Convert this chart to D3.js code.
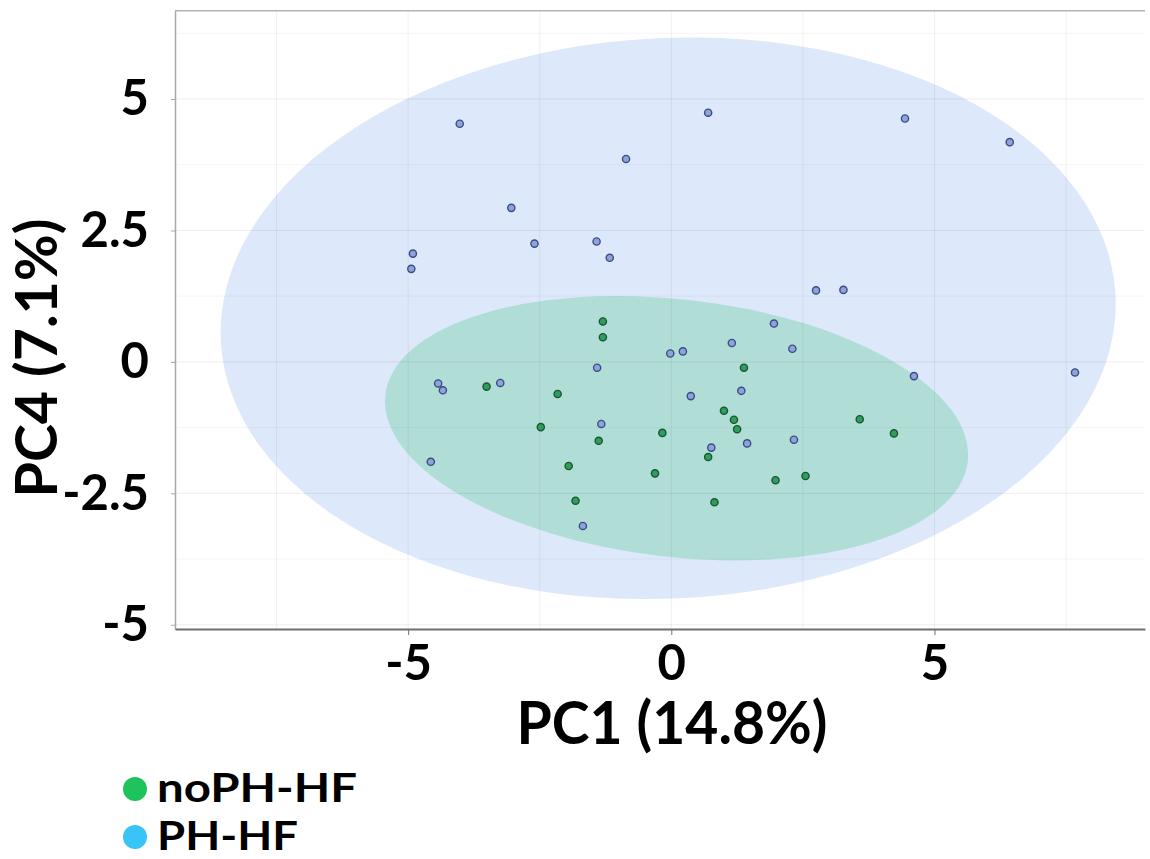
<!DOCTYPE html>
<html>
<head>
<meta charset="utf-8">
<script src="https://cdn.jsdelivr.net/npm/d3@7"></script>
<style>
  html, body { margin: 0; padding: 0; background: #fff; }
  svg text { font-family: Lato, "Open Sans", sans-serif; font-weight: 700; fill: #000; }
</style>
</head>
<body>
<svg id="chart" width="1150" height="859"></svg>
<script>
// PH-HF scores (PC1, PC4)
var phX = [-4.02, 0.70, -0.86, -3.04, -2.60, -1.42, -1.17, -4.91, -4.94, 4.44, 6.43, 2.75, 3.27, 1.95, 1.15, -0.02,
           0.22, -1.41, -4.43, -4.34, -3.25, 0.37, 1.33, -1.33, 1.44, 0.76, -4.57, -1.68, 2.30, 4.61, 7.67, 2.33];
var phY = [4.53, 4.74, 3.86, 2.93, 2.25, 2.29, 1.98, 2.06, 1.77, 4.63, 4.18, 1.36, 1.37, 0.73, 0.36, 0.16,
           0.20, -0.11, -0.41, -0.54, -0.40, -0.65, -0.55, -1.18, -1.55, -1.63, -1.90, -3.12, 0.25, -0.27, -0.20, -1.48];

// noPH-HF scores (PC1, PC4)
var nophX = [-1.30, -1.30, -3.51, -2.16, -2.48, -1.38, -1.95, -1.82, -0.17, -0.31, 1.38, 1.00, 1.19, 1.25, 0.70,
             0.82, 1.98, 3.58, 4.23, 2.55];
var nophY = [0.77, 0.47, -0.47, -0.61, -1.24, -1.50, -1.98, -2.64, -1.35, -2.12, -0.11, -0.93, -1.10, -1.28, -1.81,
             -2.67, -2.25, -1.09, -1.36, -2.17];

// confidence ellipses: [centerX, centerY, radiusX, radiusY, angle (deg)]
var phEllipse = [-0.06, 0.83, 8.51, 5.33, 3];
var nophEllipse = [0.10, -1.26, 5.57, 2.45, -6.5];

var xTicks = [-5, 0, 5];
var yTicks = [-5, -2.5, 0, 2.5, 5];
var xGrid = [-7.5, -5, -2.5, 0, 2.5, 5, 7.5];
var yGrid = [-5, -3.75, -2.5, -1.25, 0, 1.25, 2.5, 3.75, 5, 6.25];

var groups = ["noPH-HF", "PH-HF"];
var legendColors = ["#1fc35e", "#38c4f4"];

var svg = d3.select("#chart");

var x = d3.scaleLinear().domain([-9.43, 9.0]).range([175, 1145]);
var y = d3.scaleLinear().domain([-5.08, 6.68]).range([629, 10.7]);

function ellipse(g, e, fill) {
  var cx = x(e[0]), cy = y(e[1]);
  g.append("ellipse")
    .attr("cx", cx)
    .attr("cy", cy)
    .attr("rx", x(e[0] + e[2]) - cx)
    .attr("ry", cy - y(e[1] + e[3]))
    .attr("transform", "rotate(" + (-e[4]) + "," + cx + "," + cy + ")")
    .attr("fill", fill);
}

var plot = svg.append("g");
ellipse(plot, phEllipse, "#dde8fa");
ellipse(plot, nophEllipse, "#b0ded6");

// grid on top of the ellipses, very faint
plot.append("g").selectAll("line")
  .data(xGrid)
  .join("line")
    .attr("x1", d => x(d)).attr("x2", d => x(d))
    .attr("y1", y.range()[1]).attr("y2", y.range()[0])
    .attr("stroke", "#000")
    .attr("stroke-opacity", 0.06);

plot.append("g").selectAll("line")
  .data(yGrid)
  .join("line")
    .attr("x1", x.range()[0]).attr("x2", x.range()[1])
    .attr("y1", d => y(d)).attr("y2", d => y(d))
    .attr("stroke", "#000")
    .attr("stroke-opacity", d => d % 2.5 === 0 ? 0.07 : 0.04);

// top border
svg.append("line")
  .attr("x1", x.range()[0]).attr("x2", x.range()[1])
  .attr("y1", y.range()[1]).attr("y2", y.range()[1])
  .attr("stroke", "#b4b4b4")
  .attr("stroke-width", 1.5);

// points
var ph = phX.map((d, i) => [d, phY[i]]);
var noph = nophX.map((d, i) => [d, nophY[i]]);

plot.append("g").selectAll("circle")
  .data(ph)
  .join("circle")
    .attr("cx", d => x(d[0]))
    .attr("cy", d => y(d[1]))
    .attr("r", 3.6)
    .attr("fill", "#8ea4d9")
    .attr("stroke", "#3a4c86")
    .attr("stroke-width", 1.4);

plot.append("g").selectAll("circle")
  .data(noph)
  .join("circle")
    .attr("cx", d => x(d[0]))
    .attr("cy", d => y(d[1]))
    .attr("r", 3.6)
    .attr("fill", "#2f9d5d")
    .attr("stroke", "#1b5631")
    .attr("stroke-width", 1.4);

// axes
var yAxis = svg.append("g")
  .attr("transform", "translate(" + x.range()[0] + ",0)")
  .call(d3.axisLeft(y).tickValues(yTicks).tickFormat(d => String(d))
    .tickSizeInner(4).tickSizeOuter(0).tickPadding(22));
yAxis.select(".domain").attr("stroke", "#a8a8a8").attr("stroke-width", 1.5);
yAxis.selectAll(".tick line").attr("stroke", "#a8a8a8");
yAxis.selectAll(".tick text").style("font-size", "49px").attr("fill", "#000");

var xAxis = svg.append("g")
  .attr("transform", "translate(0," + y.range()[0] + ")")
  .call(d3.axisBottom(x).tickValues(xTicks).tickFormat(d => String(d))
    .tickSizeInner(6).tickSizeOuter(0).tickPadding(10));
xAxis.select(".domain").attr("stroke", "#6f6f6f").attr("stroke-width", 2);
xAxis.selectAll(".tick line").attr("stroke", "#6f6f6f");
xAxis.selectAll(".tick text").style("font-size", "49px").attr("fill", "#000");

// axis titles
svg.append("text")
  .attr("x", 672)
  .attr("y", 744)
  .attr("text-anchor", "middle")
  .attr("textLength", 311)
  .attr("lengthAdjust", "spacingAndGlyphs")
  .style("font-size", "60px")
  .text("PC1 (14.8%)");

svg.append("text")
  .attr("transform", "translate(57,358) rotate(-90)")
  .attr("text-anchor", "middle")
  .attr("textLength", 279)
  .attr("lengthAdjust", "spacingAndGlyphs")
  .style("font-size", "58px")
  .text("PC4 (7.1%)");

// legend
var legend = svg.append("g").selectAll("g")
  .data(groups)
  .join("g")
    .attr("transform", (d, i) => "translate(135," + (789 + i * 48) + ")");

legend.append("circle")
  .attr("r", 12)
  .attr("fill", (d, i) => legendColors[i]);

legend.append("text")
  .attr("x", 22)
  .attr("y", 13)
  .attr("textLength", (d, i) => i === 0 ? 200 : 141)
  .attr("lengthAdjust", "spacingAndGlyphs")
  .style("font-size", "40px")
  .text(d => d);
</script>
</body>
</html>
